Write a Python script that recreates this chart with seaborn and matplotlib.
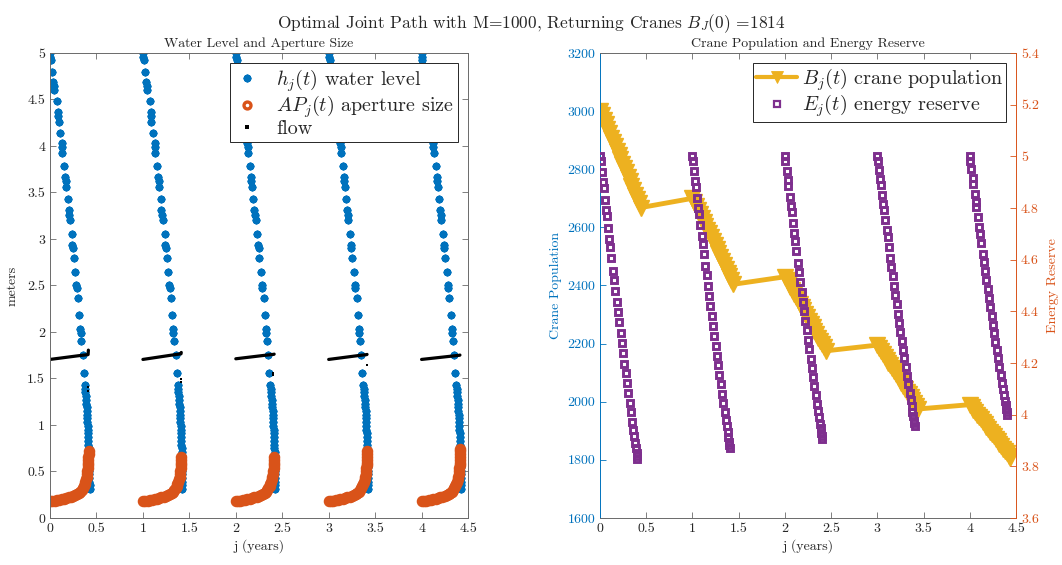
import matplotlib
matplotlib.use("Agg")
import matplotlib.pyplot as plt
from matplotlib.lines import Line2D
from matplotlib.ticker import FuncFormatter, MultipleLocator
import numpy as np
import pandas as pd
import seaborn as sns

# ---------------------------------------------------------------- data
years = [0, 1, 2, 3, 4]

# water level h_j(t): solver output times within a year and levels (m)
t_h = [0.000, 0.004, 0.009, 0.025, 0.036, 0.041, 0.046, 0.072, 0.083, 0.087,
       0.092, 0.111, 0.125, 0.128, 0.133, 0.154, 0.163, 0.168, 0.175, 0.190,
       0.200, 0.206, 0.213, 0.233, 0.241, 0.245, 0.255, 0.269, 0.283, 0.287,
       0.300, 0.312, 0.326, 0.329, 0.337, 0.352, 0.362,
       0.373, 0.376, 0.380, 0.384, 0.388, 0.391, 0.394, 0.397, 0.399, 0.401,
       0.403, 0.405, 0.407, 0.409, 0.411, 0.413, 0.414, 0.416, 0.417, 0.419,
       0.420, 0.421, 0.422, 0.423, 0.424, 0.425, 0.425, 0.426, 0.426]
h_level = [5.00, 4.96, 4.92, 4.80, 4.69, 4.65, 4.60, 4.48, 4.37, 4.32,
           4.26, 4.14, 4.03, 3.99, 3.92, 3.79, 3.67, 3.62, 3.56, 3.43,
           3.31, 3.26, 3.20, 3.05, 2.94, 2.90, 2.80, 2.65, 2.51, 2.47,
           2.37, 2.18, 2.03, 1.99, 1.90, 1.75, 1.56,
           1.43, 1.39, 1.35, 1.31, 1.27, 1.23, 1.19, 1.15, 1.11, 1.07,
           1.03, 0.99, 0.95, 0.91, 0.87, 0.83, 0.79, 0.75, 0.71, 0.67,
           0.63, 0.59, 0.55, 0.51, 0.47, 0.43, 0.39, 0.35, 0.31]

# aperture size AP_j(t); each year stops at its own peak (number of samples)
t_ap = [0.000, 0.025, 0.050, 0.075, 0.100, 0.125, 0.150, 0.175, 0.200, 0.225,
        0.250, 0.270, 0.290, 0.310, 0.325, 0.340, 0.352, 0.363, 0.372, 0.380,
        0.388, 0.394, 0.399, 0.403, 0.406, 0.409, 0.411, 0.413, 0.414, 0.415,
        0.416, 0.417]
ap_profile = [0.180, 0.184, 0.188, 0.193, 0.198, 0.203, 0.209, 0.215, 0.222, 0.230,
              0.238, 0.246, 0.256, 0.270, 0.284, 0.302, 0.322, 0.344, 0.366, 0.390,
              0.418, 0.446, 0.475, 0.505, 0.535, 0.565, 0.595, 0.625, 0.655, 0.685,
              0.715, 0.745]
ap_count = [31, 29, 29, 31, 32]

# flow
flow_t = [0.00, 0.10, 0.20, 0.30, 0.41, 0.413]
flow_level = [
    [1.705, 1.718, 1.731, 1.744, 1.757, 1.805],
    [1.705, 1.720, 1.735, 1.750, 1.765, 1.780],
    [1.712, 1.724, 1.736, 1.748, 1.760, 1.762],
    [1.705, 1.718, 1.731, 1.744, 1.757, 1.759],
    [1.705, 1.716, 1.727, 1.738, 1.750, 1.752],
]
flow_tail_j = [0.41, 0.41, 1.41, 1.41, 2.405, 2.405, 3.41]
flow_tail_val = [1.41, 1.37, 1.49, 1.46, 1.56, 1.54, 1.64]

# crane population B_j(t)
t_b = [0.00, 0.02, 0.04, 0.06, 0.08, 0.10, 0.12, 0.14, 0.16, 0.18, 0.20, 0.22,
       0.24, 0.26, 0.28, 0.30, 0.32, 0.34, 0.36, 0.38, 0.40, 0.42, 0.44]
crane_pop = [
    [3000, 2985, 2970, 2955, 2940, 2925, 2909, 2894, 2879, 2864, 2849, 2834,
     2819, 2804, 2789, 2774, 2759, 2743, 2728, 2713, 2698, 2683, 2668],
    [2700, 2687, 2673, 2660, 2646, 2633, 2619, 2606, 2592, 2579, 2566, 2552,
     2539, 2525, 2512, 2498, 2485, 2471, 2458, 2444, 2431, 2418, 2404],
    [2430, 2418, 2407, 2395, 2384, 2372, 2360, 2349, 2337, 2326, 2314, 2303,
     2291, 2279, 2268, 2256, 2245, 2233, 2221, 2210, 2198, 2187, 2175],
    [2195, 2185, 2175, 2165, 2155, 2145, 2135, 2125, 2115, 2105, 2095, 2085,
     2075, 2065, 2055, 2045, 2035, 2025, 2015, 2005, 1995, 1985, 1975],
    [1990, 1982, 1973, 1965, 1956, 1948, 1940, 1931, 1923, 1914, 1906, 1897,
     1889, 1881, 1872, 1864, 1855, 1847, 1839, 1830, 1822, 1813, 1805],
]

# energy reserve E_j(t)
t_e = [0.000, 0.006, 0.018, 0.030, 0.038, 0.052, 0.064, 0.072, 0.086, 0.100,
       0.110, 0.124, 0.140, 0.152, 0.166, 0.180, 0.194, 0.208, 0.222, 0.236,
       0.250, 0.264, 0.278, 0.292, 0.306, 0.320, 0.334, 0.348, 0.360, 0.370,
       0.380, 0.388, 0.395, 0.400, 0.405]
energy = [
    [5.000, 4.980, 4.941, 4.902, 4.876, 4.831, 4.793, 4.768, 4.724, 4.680,
     4.649, 4.606, 4.558, 4.521, 4.480, 4.438, 4.397, 4.357, 4.317, 4.277,
     4.237, 4.198, 4.160, 4.122, 4.084, 4.046, 4.009, 3.973, 3.942, 3.916,
     3.890, 3.870, 3.852, 3.840, 3.827],
    [5.000, 4.981, 4.943, 4.906, 4.881, 4.837, 4.801, 4.777, 4.734, 4.692,
     4.662, 4.621, 4.574, 4.539, 4.499, 4.459, 4.419, 4.381, 4.342, 4.304,
     4.265, 4.228, 4.191, 4.154, 4.118, 4.081, 4.046, 4.011, 3.981, 3.956,
     3.931, 3.912, 3.894, 3.883, 3.870],
    [5.000, 4.981, 4.945, 4.909, 4.884, 4.842, 4.807, 4.784, 4.743, 4.702,
     4.673, 4.633, 4.588, 4.554, 4.515, 4.476, 4.438, 4.401, 4.363, 4.326,
     4.289, 4.253, 4.217, 4.182, 4.146, 4.111, 4.076, 4.043, 4.014, 3.990,
     3.965, 3.947, 3.930, 3.919, 3.907],
    [5.000, 4.982, 4.947, 4.913, 4.890, 4.849, 4.816, 4.793, 4.754, 4.715,
     4.687, 4.649, 4.606, 4.573, 4.537, 4.499, 4.463, 4.427, 4.391, 4.356,
     4.320, 4.285, 4.252, 4.218, 4.184, 4.150, 4.117, 4.085, 4.057, 4.034,
     4.011, 3.993, 3.977, 3.966, 3.955],
    [5.000, 4.983, 4.950, 4.916, 4.894, 4.856, 4.823, 4.802, 4.765, 4.727,
     4.701, 4.664, 4.623, 4.591, 4.556, 4.521, 4.486, 4.452, 4.417, 4.383,
     4.349, 4.316, 4.283, 4.251, 4.219, 4.186, 4.155, 4.124, 4.098, 4.075,
     4.053, 4.036, 4.021, 4.011, 3.999],
]

# ---------------------------------------------------------------- tables
h_df = pd.DataFrame({
    "j": [y + t for y in years for t in t_h],
    "val": [v for _ in years for v in h_level],
    "year": [y for y in years for _ in t_h],
})
ap_df = pd.DataFrame({
    "j": [y + t_ap[i] for y, n in zip(years, ap_count) for i in range(n)],
    "val": [ap_profile[i] for n in ap_count for i in range(n)],
    "year": [y for y, n in zip(years, ap_count) for _ in range(n)],
})
flow_df = pd.DataFrame({
    "j": [y + t for y in years for t in flow_t],
    "val": [v for row in flow_level for v in row],
    "year": [y for y in years for _ in flow_t],
})
tail_df = pd.DataFrame({"j": flow_tail_j, "val": flow_tail_val})
b_df = pd.DataFrame({
    "j": [y + t for y in years for t in t_b],
    "val": [v for row in crane_pop for v in row],
})
e_df = pd.DataFrame({
    "j": [y + t for y in years for t in t_e],
    "val": [v for row in energy for v in row],
    "year": [y for y in years for _ in t_e],
})

# ---------------------------------------------------------------- style
sns.set_style("ticks")
plt.rcParams.update({
    "font.family": ["cmr10"],
    "mathtext.fontset": "cm",
    "axes.formatter.use_mathtext": True,
    "axes.unicode_minus": False,
})

BLUE = "#0072BD"
ORANGE = "#D95319"
GOLD = "#EDB120"
PURPLE = "#7E2F8E"
DARK = "#262626"
SPINE = "#6a6a6a"

fmt = FuncFormatter(lambda v, p: f"{v:g}")

fig = plt.figure(figsize=(10.62, 5.65), dpi=100)
ax1 = fig.add_axes([0.0471, 0.0832, 0.3936, 0.8230])
ax2 = fig.add_axes([0.5650, 0.0832, 0.3917, 0.8230])

# ---------------------------------------------------------------- left panel
star = (8, 2, 0)
sns.lineplot(data=h_df, x="j", y="val", units="year", estimator=None,
             linestyle="", marker=star, markersize=5.6, mew=1.5, mec=BLUE,
             color=BLUE, ax=ax1, legend=False)
sns.lineplot(data=ap_df, x="j", y="val", units="year", estimator=None,
             linestyle="", marker="o", markersize=5.5, mew=2.8, mec=ORANGE,
             mfc="none", color=ORANGE, ax=ax1, legend=False)
sns.lineplot(data=flow_df, x="j", y="val", units="year", estimator=None,
             color="black", lw=2.3, ax=ax1, legend=False)
sns.lineplot(data=tail_df, x="j", y="val", estimator=None, linestyle="",
             marker="s", markersize=2.0, mew=0, color="black", ax=ax1,
             legend=False)

ax1.set_xlim(0, 4.5)
ax1.set_ylim(0, 5)
ax1.xaxis.set_major_locator(MultipleLocator(0.5))
ax1.yaxis.set_major_locator(MultipleLocator(0.5))
ax1.xaxis.set_major_formatter(fmt)
ax1.yaxis.set_major_formatter(fmt)
ax1.tick_params(direction="in", top=True, right=True, length=4, width=0.6,
                color=SPINE, labelcolor=DARK, labelsize=10)
for s in ax1.spines.values():
    s.set_visible(True)
    s.set_color(SPINE)
    s.set_linewidth(0.7)
ax1.set_title("Water Level and Aperture Size", fontsize=10, pad=4)
ax1.set_xlabel("j (years)", fontsize=10, color=DARK, labelpad=3)
ax1.set_ylabel("meters", fontsize=10, color=DARK, labelpad=6)

left_handles = [
    Line2D([], [], ls="", marker=star, ms=5.6, mew=1.5, color=BLUE),
    Line2D([], [], ls="", marker="o", ms=5.0, mew=2.4, mfc="none", mec=ORANGE),
    Line2D([], [], ls="", marker="s", ms=2.4, mew=0, color="black"),
]
left_labels = [r"$h_j(t)$ water level", r"$AP_j(t)$ aperture size", "flow"]
leg1 = ax1.legend(left_handles, left_labels, loc="upper right", fontsize=14.5,
                  frameon=True, fancybox=False, framealpha=1, edgecolor=DARK,
                  borderpad=0.2, labelspacing=0.0, handlelength=1.3,
                  handletextpad=0.8, borderaxespad=0.5)
leg1.get_frame().set_linewidth(0.7)

# ---------------------------------------------------------------- right panel
sns.lineplot(data=b_df, x="j", y="val", estimator=None, sort=False,
             color=GOLD, lw=3.5, marker="v", markersize=11, mew=1.0, mec=GOLD,
             ax=ax2, legend=False)
ax2.set_xlim(0, 4.5)
ax2.set_ylim(1600, 3200)
ax2.xaxis.set_major_locator(MultipleLocator(0.5))
ax2.yaxis.set_major_locator(MultipleLocator(200))
ax2.xaxis.set_major_formatter(fmt)
ax2.yaxis.set_major_formatter(fmt)

ax3 = ax2.twinx()
sns.lineplot(data=e_df, x="j", y="val", units="year", estimator=None,
             linestyle="", marker="s", markersize=5.0, mew=2.1, mec=PURPLE,
             mfc="none", color=PURPLE, ax=ax3, legend=False)
ax3.set_ylim(3.6, 5.4)
ax3.yaxis.set_major_locator(MultipleLocator(0.2))
ax3.yaxis.set_major_formatter(fmt)
ax3.set_xlim(0, 4.5)

ax2.tick_params(axis="x", direction="in", top=True, length=4, width=0.6,
                color=SPINE, labelcolor=DARK, labelsize=10)
ax2.tick_params(axis="y", direction="in", left=True, right=False, length=4,
                width=0.6, color=BLUE, labelcolor=BLUE, labelsize=10)
ax3.tick_params(axis="y", direction="in", right=True, length=4, width=0.6,
                color=ORANGE, labelcolor=ORANGE, labelsize=10)
for name, s in ax2.spines.items():
    s.set_visible(name != "right")
    s.set_linewidth(0.7)
    s.set_color(BLUE if name == "left" else SPINE)
for name, s in ax3.spines.items():
    s.set_visible(name == "right")
    s.set_color(ORANGE)
    s.set_linewidth(0.7)

ax2.set_title("Crane Population and Energy Reserve", fontsize=10, pad=4)
ax2.set_xlabel("j (years)", fontsize=10, color=DARK, labelpad=3)
ax2.set_ylabel("Crane Population", fontsize=10, color=BLUE, labelpad=4)
ax3.set_ylabel("Energy Reserve", fontsize=10, color=ORANGE, labelpad=6)

right_handles = [
    Line2D([], [], color=GOLD, lw=3, marker="v", ms=8, mew=0.6, mec=GOLD),
    Line2D([], [], ls="", marker="s", ms=4.0, mew=1.6, mfc="none", mec=PURPLE),
]
right_labels = [r"$B_j(t)$ crane population", r"$E_j(t)$ energy reserve"]
leg2 = ax3.legend(right_handles, right_labels, loc="upper right", fontsize=14.5,
                  frameon=True, fancybox=False, framealpha=1, edgecolor=DARK,
                  borderpad=0.15, labelspacing=0.0, handlelength=2.0,
                  handletextpad=0.25, borderaxespad=0.5)
leg2.get_frame().set_linewidth(0.7)

fig.suptitle(r"Optimal Joint Path with M=1000, Returning Cranes $B_J(0)$ =1814",
             y=0.978, fontsize=12.5)

fig.savefig("out.png", dpi=100, facecolor="white")
